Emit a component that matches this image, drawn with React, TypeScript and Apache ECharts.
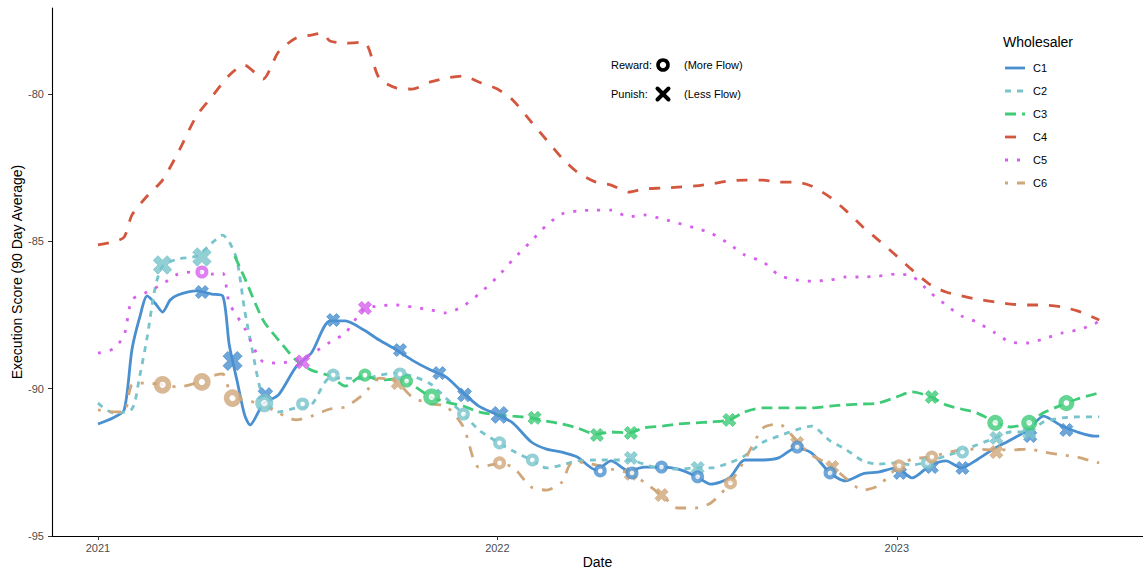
import React, { useEffect, useRef } from 'react';
import * as echarts from 'echarts';

const FONT = '"Liberation Sans", Arial, Helvetica, sans-serif';

// Wholesalers, their colours and ggplot-style line types
const companies = ['C1', 'C2', 'C3', 'C4', 'C5', 'C6'];
const colors = ['#4A90D0', '#78C4CC', '#3FCB78', '#D3563F', '#D660EC', '#CFA77A'];
const dashes: (number[] | null)[] = [null, [6, 6], [11, 6], [11, 11], [3, 9], [3, 9, 11, 9]];

const yTicks = [-95, -90, -85, -80];
const xTicks = ['2021-01-01', '2022-01-01', '2023-01-01'];

// 90-day average execution score per wholesaler: [date, score]
const c1Score: [string, number][] = [
  ['2021-01-01', -91.2], ['2021-01-15', -90.99], ['2021-01-25', -90.72], ['2021-02-01', -88.69],
  ['2021-02-08', -87.6], ['2021-02-15', -86.85], ['2021-02-22', -87.09], ['2021-03-01', -87.4],
  ['2021-03-08', -86.99], ['2021-03-15', -86.82], ['2021-04-01', -86.68], ['2021-04-15', -86.79],
  ['2021-04-25', -86.85], ['2021-05-01', -88.52], ['2021-05-08', -89.71], ['2021-05-15', -90.89],
  ['2021-05-20', -91.23], ['2021-06-01', -90.52], ['2021-06-15', -90.21], ['2021-07-01', -89.26],
  ['2021-07-15', -88.79], ['2021-08-01', -87.7], ['2021-08-15', -87.7], ['2021-09-01', -88.01],
  ['2021-09-15', -88.35], ['2021-10-01', -88.69], ['2021-10-15', -89.03], ['2021-11-01', -89.37],
  ['2021-11-15', -89.6], ['2021-12-01', -90.15], ['2021-12-15', -90.59], ['2022-01-01', -90.89],
  ['2022-01-15', -91.16], ['2022-02-01', -91.81], ['2022-02-15', -92.05], ['2022-03-01', -92.15],
  ['2022-03-15', -92.32], ['2022-04-01', -92.76], ['2022-04-15', -92.45], ['2022-05-01', -92.79],
  ['2022-05-15', -92.66], ['2022-06-01', -92.66], ['2022-06-15', -92.73], ['2022-07-01', -92.96],
  ['2022-07-15', -93.24], ['2022-08-01', -93.03], ['2022-08-15', -92.42], ['2022-09-01', -92.42],
  ['2022-09-15', -92.35], ['2022-10-01', -92.01], ['2022-10-15', -92.18], ['2022-11-01', -92.86],
  ['2022-11-15', -93.13], ['2022-12-01', -92.89], ['2022-12-15', -92.83], ['2023-01-01', -92.69],
  ['2023-01-15', -93.03], ['2023-02-01', -92.59], ['2023-02-15', -92.45], ['2023-03-01', -92.69],
  ['2023-03-15', -92.42], ['2023-04-01', -92.01], ['2023-04-15', -91.74], ['2023-05-01', -91.4],
  ['2023-05-15', -90.93], ['2023-06-01', -91.27], ['2023-06-15', -91.47], ['2023-07-01', -91.61],
  ['2023-07-05', -91.61],
];

const c2Score: [string, number][] = [
  ['2021-01-01', -90.49], ['2021-01-15', -90.82], ['2021-02-01', -90.69], ['2021-02-08', -89.6],
  ['2021-02-15', -88.25], ['2021-02-22', -86.62], ['2021-03-01', -85.84], ['2021-03-15', -85.6],
  ['2021-04-01', -85.5], ['2021-04-15', -85.06], ['2021-04-25', -84.79], ['2021-05-01', -85.02],
  ['2021-05-08', -85.63], ['2021-05-15', -87.33], ['2021-05-22', -88.69], ['2021-06-01', -90.32],
  ['2021-06-15', -90.79], ['2021-07-01', -90.65], ['2021-07-15', -90.55], ['2021-08-01', -89.64],
  ['2021-08-15', -89.64], ['2021-09-01', -89.67], ['2021-09-15', -89.54], ['2021-10-01', -89.47],
  ['2021-10-15', -89.57], ['2021-11-01', -89.84], ['2021-11-15', -90.32], ['2021-12-01', -90.86],
  ['2021-12-15', -91.4], ['2022-01-01', -91.81], ['2022-01-15', -92.11], ['2022-02-01', -92.42],
  ['2022-02-15', -92.69], ['2022-03-01', -92.59], ['2022-03-15', -92.45], ['2022-04-01', -92.42],
  ['2022-04-15', -92.42], ['2022-05-01', -92.42], ['2022-05-15', -92.56], ['2022-06-01', -92.73],
  ['2022-06-15', -92.73], ['2022-07-01', -92.69], ['2022-07-15', -92.69], ['2022-08-01', -92.52],
  ['2022-08-15', -92.28], ['2022-09-01', -91.81], ['2022-09-15', -91.61], ['2022-10-01', -91.4],
  ['2022-10-15', -91.27], ['2022-11-01', -91.77], ['2022-11-15', -92.05], ['2022-12-01', -92.45],
  ['2022-12-15', -92.56], ['2023-01-01', -92.52], ['2023-01-15', -92.59], ['2023-02-01', -92.45],
  ['2023-02-15', -92.28], ['2023-03-01', -92.11], ['2023-03-15', -91.91], ['2023-04-01', -91.67],
  ['2023-04-15', -91.47], ['2023-05-01', -91.47], ['2023-05-15', -91.13], ['2023-06-01', -90.99],
  ['2023-06-15', -90.96], ['2023-07-01', -90.96], ['2023-07-05', -90.96],
];

const c3Score: [string, number][] = [
  ['2021-05-06', -85.5], ['2021-05-15', -86.24], ['2021-06-01', -87.68], ['2021-06-15', -88.35],
  ['2021-07-01', -89.03], ['2021-07-15', -89.37], ['2021-08-01', -89.57], ['2021-08-15', -89.91],
  ['2021-09-01', -89.54], ['2021-09-15', -89.71], ['2021-10-01', -89.67], ['2021-10-15', -89.87],
  ['2021-11-01', -90.28], ['2021-11-15', -90.45], ['2021-12-01', -90.59], ['2021-12-15', -90.79],
  ['2022-01-01', -90.89], ['2022-01-15', -90.93], ['2022-02-01', -90.99], ['2022-02-15', -91.1],
  ['2022-03-01', -91.2], ['2022-03-15', -91.33], ['2022-04-01', -91.54], ['2022-04-15', -91.47],
  ['2022-05-01', -91.5], ['2022-05-15', -91.33], ['2022-06-01', -91.27], ['2022-06-15', -91.2],
  ['2022-07-01', -91.16], ['2022-07-15', -91.13], ['2022-08-01', -91.06], ['2022-08-15', -90.79],
  ['2022-09-01', -90.65], ['2022-09-15', -90.65], ['2022-10-01', -90.65], ['2022-10-15', -90.65],
  ['2022-11-01', -90.59], ['2022-11-15', -90.55], ['2022-12-01', -90.52], ['2022-12-15', -90.49],
  ['2023-01-01', -90.28], ['2023-01-15', -90.11], ['2023-02-01', -90.28], ['2023-02-15', -90.55],
  ['2023-03-01', -90.69], ['2023-03-15', -90.82], ['2023-04-01', -91.13], ['2023-04-15', -91.3],
  ['2023-05-01', -91.16], ['2023-05-15', -90.82], ['2023-06-01', -90.55], ['2023-06-15', -90.35],
  ['2023-07-01', -90.18], ['2023-07-05', -90.15],
];

const c4Score: [string, number][] = [
  ['2021-01-01', -85.12], ['2021-01-15', -85.02], ['2021-01-25', -84.85], ['2021-02-01', -84.11],
  ['2021-02-15', -83.46], ['2021-03-01', -82.92], ['2021-03-15', -82.0], ['2021-04-01', -80.75],
  ['2021-04-15', -80.1], ['2021-05-01', -79.36], ['2021-05-15', -79.02], ['2021-05-25', -79.29],
  ['2021-06-01', -79.49], ['2021-06-15', -78.57], ['2021-07-01', -78.1], ['2021-07-15', -78.0],
  ['2021-07-25', -77.93], ['2021-08-01', -78.2], ['2021-08-15', -78.27], ['2021-09-01', -78.24],
  ['2021-09-15', -79.46], ['2021-10-01', -79.8], ['2021-10-15', -79.83], ['2021-11-01', -79.59],
  ['2021-11-15', -79.46], ['2021-12-01', -79.39], ['2021-12-15', -79.59], ['2022-01-01', -79.83],
  ['2022-01-15', -80.2], ['2022-02-01', -80.95], ['2022-02-15', -81.56], ['2022-03-01', -82.17],
  ['2022-03-15', -82.65], ['2022-04-01', -82.99], ['2022-04-15', -83.09], ['2022-05-01', -83.33],
  ['2022-05-15', -83.22], ['2022-06-01', -83.19], ['2022-06-15', -83.16], ['2022-07-01', -83.12],
  ['2022-07-15', -83.05], ['2022-08-01', -82.95], ['2022-08-15', -82.92], ['2022-09-01', -82.92],
  ['2022-09-15', -82.99], ['2022-10-01', -82.99], ['2022-10-15', -83.12], ['2022-11-01', -83.5],
  ['2022-11-15', -83.94], ['2022-12-01', -84.51], ['2022-12-15', -84.95], ['2023-01-01', -85.5],
  ['2023-01-15', -85.97], ['2023-02-01', -86.48], ['2023-02-15', -86.72], ['2023-03-01', -86.85],
  ['2023-03-15', -86.96], ['2023-04-01', -87.06], ['2023-04-15', -87.13], ['2023-05-01', -87.16],
  ['2023-05-15', -87.16], ['2023-06-01', -87.23], ['2023-06-15', -87.36], ['2023-07-01', -87.6],
  ['2023-07-05', -87.67],
];

const c5Score: [string, number][] = [
  ['2021-01-01', -88.79], ['2021-01-15', -88.65], ['2021-01-25', -88.18], ['2021-02-01', -86.99],
  ['2021-02-15', -86.72], ['2021-03-01', -86.45], ['2021-03-15', -86.11], ['2021-04-01', -86.04],
  ['2021-04-15', -86.11], ['2021-04-25', -86.08], ['2021-05-01', -87.09], ['2021-05-15', -87.94],
  ['2021-06-01', -89.09], ['2021-06-15', -89.13], ['2021-07-01', -89.03], ['2021-07-15', -88.82],
  ['2021-08-01', -88.42], ['2021-08-15', -88.11], ['2021-09-01', -87.3], ['2021-09-15', -87.19],
  ['2021-10-01', -87.16], ['2021-10-15', -87.23], ['2021-11-01', -87.33], ['2021-11-15', -87.43],
  ['2021-12-01', -87.19], ['2021-12-15', -86.79], ['2022-01-01', -86.21], ['2022-01-15', -85.63],
  ['2022-02-01', -84.99], ['2022-02-15', -84.45], ['2022-03-01', -84.07], ['2022-03-15', -83.97],
  ['2022-04-01', -83.94], ['2022-04-15', -83.94], ['2022-05-01', -84.17], ['2022-05-15', -84.1],
  ['2022-06-01', -84.24], ['2022-06-15', -84.38], ['2022-07-01', -84.55], ['2022-07-15', -84.72],
  ['2022-08-01', -85.09], ['2022-08-15', -85.46], ['2022-09-01', -85.7], ['2022-09-15', -86.14],
  ['2022-10-01', -86.31], ['2022-10-15', -86.35], ['2022-11-01', -86.31], ['2022-11-15', -86.21],
  ['2022-12-01', -86.21], ['2022-12-15', -86.18], ['2023-01-01', -86.11], ['2023-01-15', -86.18],
  ['2023-02-01', -86.75], ['2023-02-15', -87.16], ['2023-03-01', -87.53], ['2023-03-15', -87.74],
  ['2023-04-01', -88.11], ['2023-04-15', -88.42], ['2023-05-01', -88.45], ['2023-05-15', -88.31],
  ['2023-06-01', -88.11], ['2023-06-15', -88.01], ['2023-07-01', -87.8], ['2023-07-05', -87.67],
];

const c6Score: [string, number][] = [
  ['2021-01-01', -90.72], ['2021-01-15', -90.79], ['2021-01-25', -90.79], ['2021-02-01', -89.87],
  ['2021-02-15', -89.81], ['2021-03-01', -89.87], ['2021-03-15', -89.94], ['2021-04-01', -89.81],
  ['2021-04-15', -89.57], ['2021-04-25', -89.5], ['2021-05-01', -90.04], ['2021-05-08', -90.32],
  ['2021-05-15', -90.38], ['2021-06-01', -90.55], ['2021-06-15', -90.82], ['2021-07-01', -91.06],
  ['2021-07-15', -90.93], ['2021-08-01', -90.69], ['2021-08-15', -90.62], ['2021-09-01', -90.18],
  ['2021-09-15', -89.64], ['2021-10-01', -89.77], ['2021-10-15', -90.28], ['2021-11-01', -90.52],
  ['2021-11-15', -90.59], ['2021-12-01', -91.3], ['2021-12-15', -92.66], ['2022-01-01', -92.56],
  ['2022-01-15', -92.66], ['2022-02-01', -93.34], ['2022-02-15', -93.44], ['2022-03-01', -93.17],
  ['2022-03-08', -92.59], ['2022-03-15', -92.49], ['2022-04-01', -92.59], ['2022-04-15', -92.73],
  ['2022-05-01', -92.86], ['2022-05-15', -93.17], ['2022-06-01', -93.64], ['2022-06-15', -94.05],
  ['2022-07-01', -94.05], ['2022-07-15', -93.88], ['2022-08-01', -93.24], ['2022-08-15', -92.42],
  ['2022-09-01', -91.33], ['2022-09-15', -91.2], ['2022-10-01', -91.74], ['2022-10-15', -92.25],
  ['2022-11-01', -92.59], ['2022-11-15', -93.03], ['2022-12-01', -93.44], ['2022-12-15', -93.3],
  ['2023-01-01', -92.69], ['2023-01-15', -92.39], ['2023-02-01', -92.32], ['2023-02-15', -92.18],
  ['2023-03-01', -92.08], ['2023-03-15', -92.05], ['2023-04-01', -92.08], ['2023-04-15', -92.08],
  ['2023-05-01', -92.05], ['2023-05-15', -92.15], ['2023-06-01', -92.25], ['2023-06-15', -92.32],
  ['2023-07-01', -92.49], ['2023-07-05', -92.52],
];

// Flow decisions: [date, 'reward' | 'punish', score, strength]
type Signal = [string, 'reward' | 'punish', number, number];

const c1Signals: Signal[] = [
  ['2021-04-06', 'punish', -86.72, 1], ['2021-05-04', 'punish', -89.06, 3],
  ['2021-06-03', 'punish', -90.21, 1.5], ['2021-08-04', 'punish', -87.67, 1],
  ['2021-10-04', 'punish', -88.69, 1], ['2021-11-09', 'punish', -89.47, 1],
  ['2021-12-02', 'punish', -90.21, 1.3], ['2022-01-03', 'punish', -90.89, 2.3],
  ['2022-04-05', 'reward', -92.79, 1], ['2022-05-04', 'reward', -92.86, 1],
  ['2022-05-31', 'reward', -92.66, 1], ['2022-07-03', 'reward', -92.99, 1],
  ['2022-10-02', 'reward', -91.98, 1], ['2022-11-01', 'reward', -92.86, 1],
  ['2023-01-04', 'punish', -92.86, 1], ['2023-02-02', 'punish', -92.66, 1],
  ['2023-03-02', 'punish', -92.69, 1], ['2023-05-03', 'punish', -91.61, 1],
  ['2023-06-05', 'punish', -91.4, 1],
];

const c2Signals: Signal[] = [
  ['2021-03-01', 'punish', -85.8, 2.8], ['2021-04-06', 'punish', -85.53, 2.8],
  ['2021-06-02', 'reward', -90.49, 2.7], ['2021-07-07', 'reward', -90.52, 1],
  ['2021-08-04', 'reward', -89.54, 1], ['2021-10-04', 'reward', -89.5, 1],
  ['2021-12-01', 'reward', -90.86, 1], ['2022-01-03', 'reward', -91.84, 1],
  ['2022-02-02', 'reward', -92.42, 1], ['2022-05-03', 'punish', -92.35, 1],
  ['2022-07-03', 'punish', -92.69, 1], ['2023-01-29', 'reward', -92.52, 1],
  ['2023-03-02', 'reward', -92.15, 1], ['2023-04-02', 'punish', -91.67, 1],
  ['2023-05-02', 'punish', -91.5, 1],
];

const c3Signals: Signal[] = [
  ['2021-09-02', 'reward', -89.54, 1], ['2021-10-10', 'reward', -89.74, 1],
  ['2021-11-02', 'reward', -90.28, 2.3], ['2022-02-04', 'punish', -90.99, 1],
  ['2022-04-02', 'punish', -91.57, 1], ['2022-05-03', 'punish', -91.5, 1],
  ['2022-08-01', 'punish', -91.06, 1], ['2023-02-02', 'punish', -90.28, 1],
  ['2023-04-01', 'reward', -91.16, 2], ['2023-05-02', 'reward', -91.16, 2],
  ['2023-06-05', 'reward', -90.49, 2],
];

const c4Signals: Signal[] = [];

const c5Signals: Signal[] = [
  ['2021-04-06', 'reward', -86.04, 1], ['2021-07-07', 'punish', -89.09, 1.3],
  ['2021-09-02', 'punish', -87.26, 1],
];

const c6Signals: Signal[] = [
  ['2021-03-01', 'reward', -89.87, 2.5], ['2021-04-06', 'reward', -89.77, 2.5],
  ['2021-05-04', 'reward', -90.32, 2.5], ['2021-10-02', 'punish', -89.81, 1],
  ['2022-01-03', 'reward', -92.52, 1], ['2022-05-03', 'punish', -92.89, 1],
  ['2022-05-31', 'punish', -93.61, 1], ['2022-08-02', 'reward', -93.2, 1],
  ['2022-10-02', 'punish', -91.84, 1], ['2022-11-03', 'punish', -92.66, 1],
  ['2023-01-03', 'reward', -92.62, 1], ['2023-02-02', 'reward', -92.32, 1],
  ['2023-04-02', 'punish', -92.15, 1],
];

const scores = [c1Score, c2Score, c3Score, c4Score, c5Score, c6Score];
const signals = [c1Signals, c2Signals, c3Signals, c4Signals, c5Signals, c6Signals];

// Local-time timestamp for a yyyy-mm-dd string
const ts = (d: string) => {
  const [y, m, dd] = d.split('-').map(Number);
  return new Date(y, m - 1, dd).getTime();
};

// Thick "x" glyph for punish markers
const CROSS =
  'path://M0,2.5 L2.5,0 L5,2.5 L7.5,0 L10,2.5 L7.5,5 L10,7.5 L7.5,10 L5,7.5 L2.5,10 L0,7.5 L2.5,5 Z';

const markerSize = (strength: number) => 10 + 3 * strength;

export default function App() {
  const ref = useRef<HTMLDivElement>(null);

  useEffect(() => {
    if (!ref.current) return;
    const chart = echarts.init(ref.current, undefined, { renderer: 'svg' });

    const lineSeries = companies.map((name, i) => ({
      name,
      type: 'line',
      showSymbol: false,
      symbol: 'none',
      smooth: 0.25,
      z: 2,
      lineStyle: {
        color: colors[i],
        width: 2.8,
        type: dashes[i] ?? 'solid',
        cap: 'butt',
      },
      itemStyle: { color: colors[i] },
      data: scores[i].map(([d, v]) => [ts(d), v]),
    }));

    const markerSeries: any[] = [];
    companies.forEach((name, i) => {
      const rewards = signals[i].filter((s) => s[1] === 'reward');
      const punishes = signals[i].filter((s) => s[1] === 'punish');
      if (punishes.length) {
        markerSeries.push({
          name: name + ' punish',
          type: 'scatter',
          z: 4,
          symbol: CROSS,
          itemStyle: { color: colors[i], borderColor: colors[i], borderWidth: 1, borderJoin: 'round' },
          data: punishes.map(([d, , v, s]) => ({ value: [ts(d), v], symbolSize: markerSize(s) })),
        });
      }
      if (rewards.length) {
        markerSeries.push({
          name: name + ' reward',
          type: 'scatter',
          z: 5,
          symbol: 'circle',
          data: rewards.map(([d, , v, s]) => {
            const outer = markerSize(s);
            const w = outer * 0.32;
            return {
              value: [ts(d), v],
              symbolSize: outer - w,
              itemStyle: { color: '#ffffff', borderColor: colors[i], borderWidth: w },
            };
          }),
        });
      }
    });

    // Legend keys drawn as dashed samples so each line type shows
    const legendKeys: any[] = [
      {
        type: 'text',
        x: 1003,
        y: 42,
        style: { text: 'Wholesaler', fontSize: 14, fontFamily: FONT, fill: '#000', verticalAlign: 'middle' },
      },
    ];
    companies.forEach((name, i) => {
      const y = 68 + 23 * i;
      legendKeys.push({
        type: 'line',
        shape: { x1: 1005, y1: y, x2: 1025, y2: y },
        style: { stroke: colors[i], lineWidth: 2.8, lineDash: dashes[i] ?? undefined, lineCap: 'butt' },
      });
      legendKeys.push({
        type: 'text',
        x: 1033,
        y,
        style: { text: name, fontSize: 11, fontFamily: FONT, fill: '#000', verticalAlign: 'middle' },
      });
    });

    const axisText = { color: '#4d4d4d', fontSize: 11, fontFamily: FONT };

    chart.setOption({
      animation: false,
      backgroundColor: '#ffffff',
      textStyle: { fontFamily: FONT },
      grid: { left: 52, right: 0, top: 8, bottom: 36, containLabel: false, outerBoundsMode: 'none' },
      xAxis: {
        type: 'value',
        min: ts('2020-11-20'),
        max: ts('2023-08-14'),
        name: 'Date',
        nameLocation: 'middle',
        nameGap: 19,
        nameMoveOverlap: false,
        nameTextStyle: { color: '#000', fontSize: 14, fontFamily: FONT },
        axisLine: { show: true, onZero: false, lineStyle: { color: '#000', width: 1.1 } },
        axisTick: {
          show: true,
          length: 4,
          lineStyle: { color: '#333' },
          customValues: xTicks.map(ts),
        },
        axisLabel: {
          ...axisText,
          margin: 6,
          customValues: xTicks.map(ts),
          formatter: (v: number) => String(new Date(v).getFullYear()),
        },
        splitLine: { show: false },
      },
      yAxis: {
        type: 'value',
        min: -95,
        max: -77.08,
        interval: 5,
        name: 'Execution Score (90 Day Average)',
        nameLocation: 'middle',
        nameGap: 28,
        nameMoveOverlap: false,
        nameTextStyle: { color: '#000', fontSize: 14, fontFamily: FONT },
        axisLine: { show: true, onZero: false, lineStyle: { color: '#000', width: 1.1 } },
        axisTick: { show: true, length: 4, lineStyle: { color: '#333' }, customValues: yTicks },
        axisLabel: { ...axisText, margin: 8, customValues: yTicks },
        splitLine: { show: false },
      },
      graphic: [
        ...legendKeys,
        {
          type: 'text',
          x: 611,
          y: 65,
          style: { text: 'Reward:', fontSize: 11, fontFamily: FONT, fill: '#000', verticalAlign: 'middle' },
        },
        {
          type: 'circle',
          shape: { cx: 663, cy: 65, r: 5 },
          style: { fill: '#fff', stroke: '#000', lineWidth: 3.6 },
        },
        {
          type: 'text',
          x: 684,
          y: 65,
          style: { text: '(More Flow)', fontSize: 11, fontFamily: FONT, fill: '#000', verticalAlign: 'middle' },
        },
        {
          type: 'text',
          x: 611,
          y: 94,
          style: { text: 'Punish:', fontSize: 11, fontFamily: FONT, fill: '#000', verticalAlign: 'middle' },
        },
        {
          type: 'line',
          shape: { x1: 657.5, y1: 88.5, x2: 668.5, y2: 99.5 },
          style: { stroke: '#000', lineWidth: 4, lineCap: 'round' },
        },
        {
          type: 'line',
          shape: { x1: 668.5, y1: 88.5, x2: 657.5, y2: 99.5 },
          style: { stroke: '#000', lineWidth: 4, lineCap: 'round' },
        },
        {
          type: 'text',
          x: 684,
          y: 94,
          style: { text: '(Less Flow)', fontSize: 11, fontFamily: FONT, fill: '#000', verticalAlign: 'middle' },
        },
      ],
      series: [...lineSeries, ...markerSeries],
    });

    return () => chart.dispose();
  }, []);

  return (
    <div
      ref={ref}
      style={{ position: 'absolute', left: 0, top: 0, width: 1143, height: 572, background: '#fff' }}
    />
  );
}
